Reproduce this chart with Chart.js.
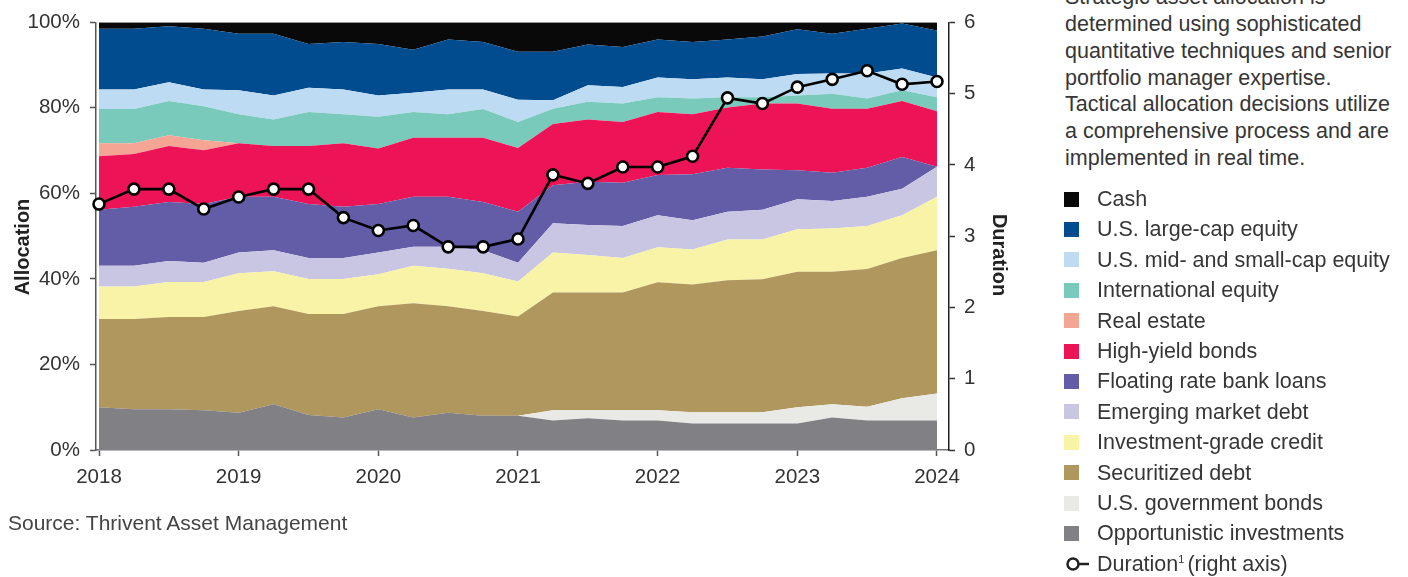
<!DOCTYPE html>
<html>
<head>
<meta charset="utf-8">
<script src="https://cdn.jsdelivr.net/npm/chart.js@4.4.1/dist/chart.umd.min.js"></script>
<style>
html,body{margin:0;padding:0;background:#fff;width:1408px;height:577px;overflow:hidden;font-family:"Liberation Sans",Arial,sans-serif;}
#wrap{position:absolute;left:0;top:0;width:1040px;height:577px;}
#note{position:absolute;left:1065px;top:-15.6px;width:343px;font-size:21.5px;line-height:26.7px;color:#363636;white-space:nowrap;}
.row{position:absolute;left:1064px;height:26px;line-height:26px;font-size:21.5px;color:#363636;white-space:nowrap;}
.sw{position:absolute;left:0;top:5.5px;width:15px;height:15px;}
.lbl{position:absolute;left:33px;top:0;}
#src{position:absolute;left:8px;top:512px;font-size:21px;line-height:21px;color:#444;white-space:nowrap;}
.sup{font-size:11px;position:relative;top:-8px;margin-right:3px;}
.axt{position:absolute;width:140px;height:20px;line-height:20px;font-size:20px;font-weight:bold;color:#222;text-align:center;white-space:nowrap;}
#tl{left:-48.5px;top:236.5px;transform:rotate(-90deg);}
#tr{left:930px;top:245px;transform:rotate(90deg);}
</style>
</head>
<body>
<div id="wrap"><canvas id="c" width="1040" height="577"></canvas></div>
<div id="tl" class="axt">Allocation</div>
<div id="tr" class="axt">Duration</div>
<div id="note">Strategic asset allocation is<br>determined using sophisticated<br>quantitative techniques and senior<br>portfolio manager expertise.<br>Tactical allocation decisions utilize<br>a comprehensive process and are<br>implemented in real time.</div>
<div id="legend"></div>
<div id="src">Source: Thrivent Asset Management</div>
<script>
// ---- Data (quarterly, 2018 Q1 .. 2024 Q1) ----
const quarters = [2018, 2018.25, 2018.5, 2018.75, 2019, 2019.25, 2019.5, 2019.75, 2020, 2020.25, 2020.5, 2020.75, 2021, 2021.25, 2021.5, 2021.75, 2022, 2022.25, 2022.5, 2022.75, 2023, 2023.25, 2023.5, 2023.75, 2024];
const yearTicks = [2018, 2019, 2020, 2021, 2022, 2023, 2024];
const allocTicks = [0, 20, 40, 60, 80, 100];
const durationTicks = [0, 1, 2, 3, 4, 5, 6];

const opportunistic = [10.0, 9.5, 9.5, 9.3, 8.7, 10.7, 8.2, 7.6, 9.5, 7.6, 8.7, 8.0, 8.0, 6.9, 7.4, 6.9, 6.9, 6.2, 6.2, 6.2, 6.2, 7.6, 6.9, 6.9, 6.9];
const govBonds      = [0, 0, 0, 0, 0, 0, 0, 0, 0, 0, 0, 0, 0, 2.4, 1.9, 2.4, 2.4, 2.6, 2.6, 2.6, 3.8, 3.1, 3.2, 5.2, 6.3];
const securitized   = [20.6, 21.1, 21.6, 21.8, 23.8, 22.9, 23.6, 24.2, 24.1, 26.7, 24.9, 24.5, 23.2, 27.5, 27.5, 27.5, 29.9, 29.9, 30.9, 31.1, 31.7, 31.0, 32.2, 32.8, 33.5];
const igCredit      = [7.6, 7.6, 8.2, 8.2, 8.8, 8.2, 8.2, 8.2, 7.5, 8.8, 8.8, 8.8, 8.2, 9.4, 8.8, 8.1, 8.2, 8.2, 9.5, 9.3, 9.9, 10.1, 10.1, 10.0, 12.5];
const emDebt        = [4.9, 4.9, 4.9, 4.5, 4.9, 4.9, 4.9, 4.9, 5.1, 4.4, 5.1, 5.4, 4.4, 6.8, 7.0, 7.5, 7.5, 6.8, 6.5, 7.0, 7.0, 6.4, 6.8, 6.2, 7.0];
const bankLoans     = [13.1, 13.8, 13.8, 13.7, 13.0, 12.5, 12.6, 12.0, 11.3, 11.7, 11.7, 11.3, 11.9, 8.9, 10.1, 10.1, 9.4, 10.8, 10.3, 9.4, 6.8, 6.6, 6.8, 7.4, 0];
const highYield     = [12.5, 12.3, 13.1, 12.6, 12.5, 11.9, 13.6, 14.8, 13.0, 13.8, 13.8, 15.0, 14.9, 14.3, 14.6, 14.2, 14.7, 14.0, 14.1, 15.4, 15.6, 15.0, 13.8, 13.1, 13.0];
const realEstate    = [3.0, 2.5, 2.5, 2.3, 0, 0, 0, 0, 0, 0, 0, 0, 0, 0, 0, 0, 0, 0, 0, 0, 0, 0, 0, 0, 0];
const intlEquity    = [8.0, 8.0, 8.0, 8.0, 6.8, 6.2, 7.9, 6.8, 7.4, 6.0, 5.5, 6.7, 6.1, 3.6, 4.1, 4.3, 3.5, 3.7, 2.4, 1.5, 1.9, 3.5, 2.4, 2.5, 3.3];
const midSmallCap   = [4.6, 4.6, 4.4, 3.9, 5.6, 5.6, 5.7, 5.8, 5.0, 4.5, 5.8, 4.6, 5.2, 2.0, 3.9, 3.9, 4.6, 4.5, 4.6, 4.2, 5.0, 4.7, 5.8, 5.1, 4.6];
const largeCap      = [14.2, 14.2, 13.1, 14.2, 13.2, 14.4, 10.2, 11.1, 12.0, 10.1, 11.7, 11.1, 11.2, 11.3, 9.5, 9.3, 8.9, 8.7, 8.9, 10.0, 10.5, 9.3, 10.5, 10.5, 11.0];
const cash          = [1.5, 1.5, 0.9, 1.5, 2.7, 2.7, 5.1, 4.6, 5.1, 6.4, 4.0, 4.6, 6.9, 6.9, 5.2, 5.8, 4.0, 4.6, 4.0, 3.3, 1.6, 2.7, 1.5, 0.3, 1.9];
const duration      = [3.45, 3.66, 3.66, 3.38, 3.55, 3.66, 3.66, 3.26, 3.08, 3.15, 2.85, 2.85, 2.96, 3.86, 3.74, 3.97, 3.97, 4.12, 4.94, 4.86, 5.09, 5.20, 5.32, 5.13, 5.17];

// stack order bottom -> top
const series = [
  {name: 'Opportunistic investments', data: opportunistic, color: '#808085'},
  {name: 'U.S. government bonds', data: govBonds, color: '#e9e9e5'},
  {name: 'Securitized debt', data: securitized, color: '#b0975e'},
  {name: 'Investment-grade credit', data: igCredit, color: '#f8f3a6'},
  {name: 'Emerging market debt', data: emDebt, color: '#c9c6e4'},
  {name: 'Floating rate bank loans', data: bankLoans, color: '#635ca7'},
  {name: 'High-yield bonds', data: highYield, color: '#ec1457'},
  {name: 'Real estate', data: realEstate, color: '#f5a593'},
  {name: 'International equity', data: intlEquity, color: '#7acabc'},
  {name: 'U.S. mid- and small-cap equity', data: midSmallCap, color: '#bddcf3'},
  {name: 'U.S. large-cap equity', data: largeCap, color: '#004c8f'},
  {name: 'Cash', data: cash, color: '#0a0909'}
];

const datasets = series.map((s, i) => ({
  type: 'line',
  label: s.name,
  data: s.data.map((v, j) => ({x: quarters[j], y: v})),
  backgroundColor: s.color,
  borderColor: s.color,
  borderWidth: 0,
  pointRadius: 0,
  tension: 0,
  fill: i === 0 ? 'origin' : '-1',
  yAxisID: 'y',
  order: 2
}));
datasets.push({
  type: 'line',
  label: 'Duration',
  data: duration.map((v, j) => ({x: quarters[j], y: v})),
  borderColor: '#000',
  borderWidth: 2.6,
  pointRadius: 5.5,
  pointBackgroundColor: '#fff',
  pointBorderColor: '#000',
  pointBorderWidth: 2.6,
  fill: false,
  tension: 0,
  yAxisID: 'y2',
  order: 0,
  clip: false
});

const tickFont = {family: '"Liberation Sans", Arial, sans-serif', size: 20.5};

new Chart(document.getElementById('c'), {
  data: {datasets},
  options: {
    responsive: false,
    animation: false,
    layout: {padding: {top: 22, left: 0, right: 0, bottom: 0}},
    plugins: {legend: {display: false}, tooltip: {enabled: false}},
    scales: {
      x: {
        type: 'linear',
        min: 2017.9785,
        max: 2024.086,
        afterBuildTicks: s => { s.ticks = yearTicks.map(v => ({value: v})); },
        afterFit: s => { s.height = 127; },
        ticks: {callback: v => String(v), font: tickFont, color: '#333', padding: 9, maxRotation: 0, autoSkip: false},
        grid: {drawOnChartArea: false, drawTicks: true, tickLength: 6, color: '#555', tickWidth: 1.5},
        border: {display: true, color: '#777', width: 1.5}
      },
      y: {
        position: 'left',
        stacked: true,
        min: 0, max: 100,
        afterBuildTicks: s => { s.ticks = allocTicks.map(v => ({value: v})); },
        afterFit: s => { s.width = 96; },
        ticks: {callback: v => v + '%', font: tickFont, color: '#333', padding: 10},
        grid: {drawOnChartArea: false, drawTicks: true, tickLength: 6, color: '#555', tickWidth: 1.5},
        border: {display: true, color: '#555', width: 1.5}
      },
      y2: {
        position: 'right',
        min: 0, max: 6,
        afterBuildTicks: s => { s.ticks = durationTicks.map(v => ({value: v})); },
        afterFit: s => { s.width = 91; },
        ticks: {callback: v => String(v), font: tickFont, color: '#333', padding: 9},
        grid: {drawOnChartArea: false, drawTicks: true, tickLength: 6, color: '#333', tickWidth: 1.5},
        border: {display: true, color: '#222', width: 1.5}
      }
    }
  }
});

// ---- HTML legend built from the series ----
const legendOrder = series.slice().reverse();
const legendTop = 199, legendStep = 30.4;
const lg = document.getElementById('legend');
legendOrder.forEach((s, i) => {
  const r = document.createElement('div');
  r.className = 'row';
  r.style.top = (legendTop + i * legendStep - 13) + 'px';
  r.innerHTML = '<span class="sw" style="background:' + s.color + '"></span><span class="lbl">' + s.name + '</span>';
  lg.appendChild(r);
});
const dr = document.createElement('div');
dr.className = 'row';
dr.style.top = (legendTop + legendOrder.length * legendStep - 13) + 'px';
dr.innerHTML = '<svg style="position:absolute;left:0;top:3px" width="28" height="20"><line x1="14" y1="10" x2="25" y2="10" stroke="#222" stroke-width="2.5"/><circle cx="9" cy="10" r="5.5" fill="#fff" stroke="#222" stroke-width="2.5"/></svg><span class="lbl">Duration<span class="sup">1</span>(right axis)</span>';
lg.appendChild(dr);
</script>
</body>
</html>
